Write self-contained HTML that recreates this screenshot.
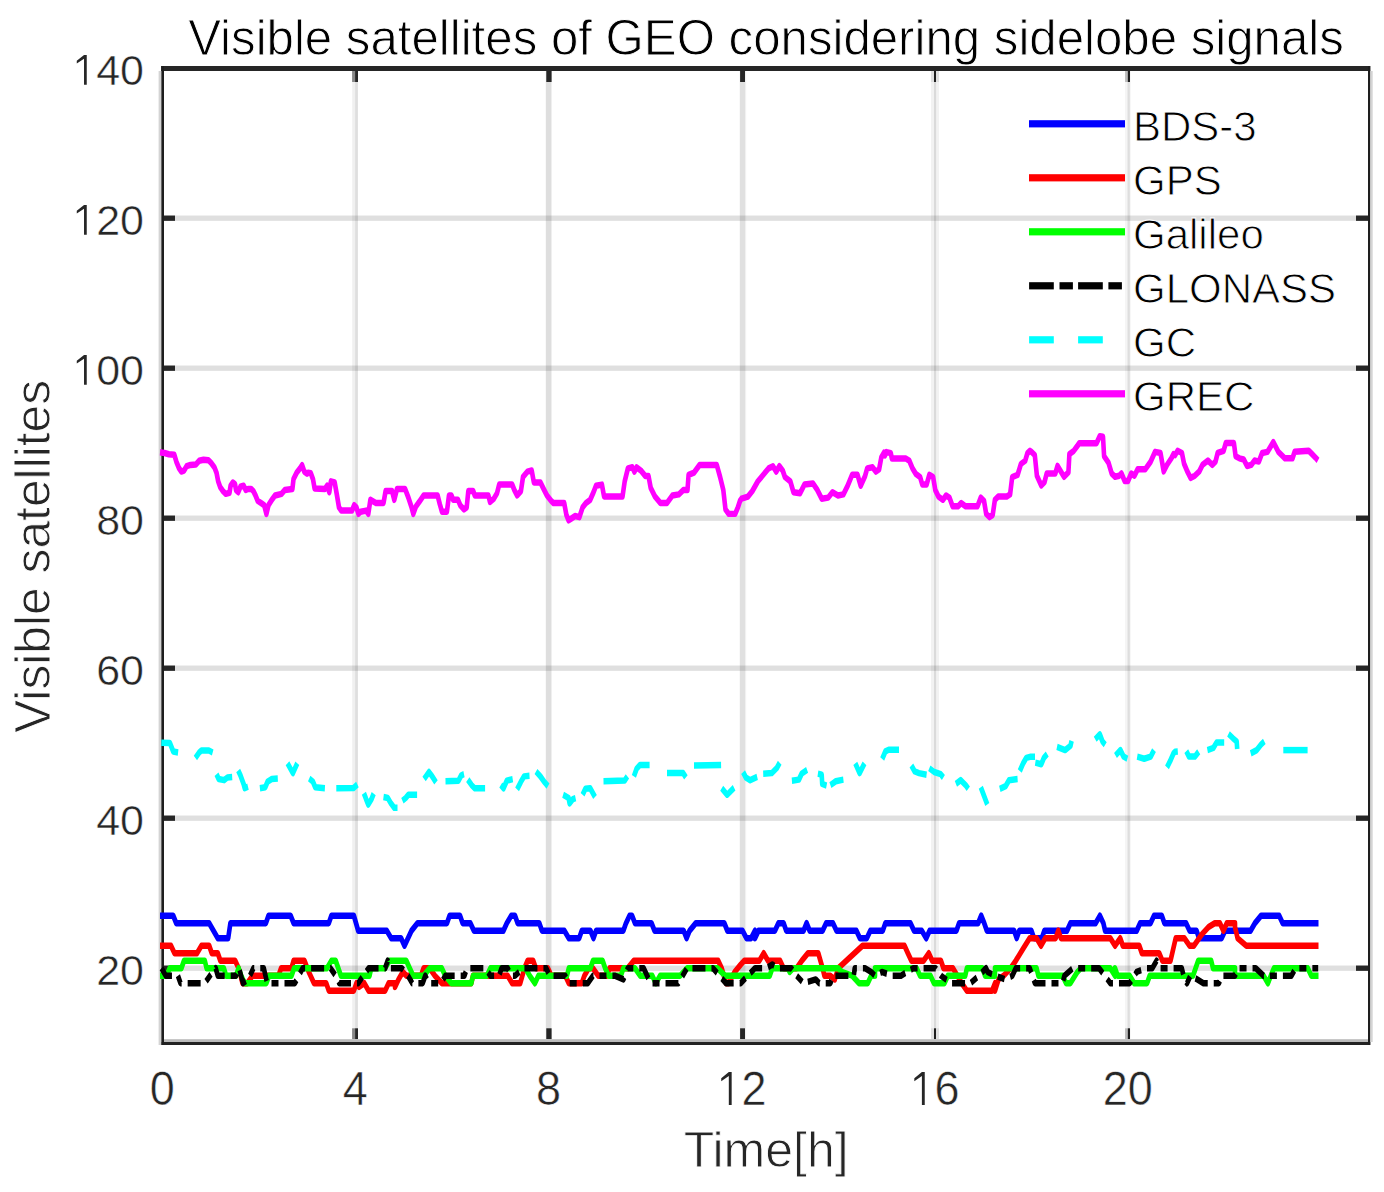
<!DOCTYPE html><html><head><meta charset="utf-8"><style>html,body{margin:0;padding:0;background:#fff;width:1384px;height:1192px;overflow:hidden}svg{display:block}text{font-family:"Liberation Sans",sans-serif;stroke:#fff;stroke-width:0.9px}text.tk{stroke-width:0.5px}</style></head><body><svg width="1384" height="1192" viewBox="0 0 1384 1192"><rect width="1384" height="1192" fill="#fff"/><rect x="352.2" y="71" width="3.00" height="968" fill="#262626" fill-opacity="0.069"/><rect x="355.2" y="71" width="2.70" height="968" fill="#262626" fill-opacity="0.152"/><rect x="545.8" y="71" width="5.70" height="968" fill="#262626" fill-opacity="0.152"/><rect x="739.8" y="71" width="5.40" height="968" fill="#262626" fill-opacity="0.143"/><rect x="745.2" y="71" width="1.00" height="968" fill="#262626" fill-opacity="0.041"/><rect x="931" y="71" width="3.00" height="968" fill="#262626" fill-opacity="0.060"/><rect x="934" y="71" width="2.10" height="968" fill="#262626" fill-opacity="0.171"/><rect x="936.1" y="71" width="2.90" height="968" fill="#262626" fill-opacity="0.060"/><rect x="1125" y="71" width="2.50" height="968" fill="#262626" fill-opacity="0.046"/><rect x="1127.5" y="71" width="2.30" height="968" fill="#262626" fill-opacity="0.152"/><rect x="1129.8" y="71" width="1.00" height="968" fill="#262626" fill-opacity="0.041"/><rect x="164" y="965.55" width="1204" height="5.3" fill="#262626" fill-opacity="0.15"/><rect x="164" y="815.55" width="1204" height="5.3" fill="#262626" fill-opacity="0.15"/><rect x="164" y="665.55" width="1204" height="5.3" fill="#262626" fill-opacity="0.15"/><rect x="164" y="515.55" width="1204" height="5.3" fill="#262626" fill-opacity="0.15"/><rect x="164" y="365.55" width="1204" height="5.3" fill="#262626" fill-opacity="0.15"/><rect x="164" y="215.55" width="1204" height="5.3" fill="#262626" fill-opacity="0.15"/><rect x="164" y="965.55" width="11" height="5.3" fill="#262626"/><rect x="1356" y="965.55" width="12" height="5.3" fill="#262626"/><rect x="164" y="815.55" width="11" height="5.3" fill="#262626"/><rect x="1356" y="815.55" width="12" height="5.3" fill="#262626"/><rect x="164" y="665.55" width="11" height="5.3" fill="#262626"/><rect x="1356" y="665.55" width="12" height="5.3" fill="#262626"/><rect x="164" y="515.55" width="11" height="5.3" fill="#262626"/><rect x="1356" y="515.55" width="12" height="5.3" fill="#262626"/><rect x="164" y="365.55" width="11" height="5.3" fill="#262626"/><rect x="1356" y="365.55" width="12" height="5.3" fill="#262626"/><rect x="164" y="215.55" width="11" height="5.3" fill="#262626"/><rect x="1356" y="215.55" width="12" height="5.3" fill="#262626"/><rect x="352.1" y="71" width="3.00" height="11" fill="#888888"/><rect x="352.1" y="1028.3" width="3.00" height="10.9" fill="#888888"/><rect x="355.1" y="71" width="2.90" height="11" fill="#262626"/><rect x="355.1" y="1028.3" width="2.90" height="10.9" fill="#262626"/><rect x="546.3" y="71" width="5.30" height="11" fill="#262626"/><rect x="546.3" y="1028.3" width="5.30" height="10.9" fill="#262626"/><rect x="740.1" y="71" width="4.90" height="11" fill="#262626"/><rect x="740.1" y="1028.3" width="4.90" height="10.9" fill="#262626"/><rect x="931" y="71" width="3.00" height="11" fill="#e0e0e0"/><rect x="931" y="1028.3" width="3.00" height="10.9" fill="#e0e0e0"/><rect x="934" y="71" width="2.10" height="11" fill="#1e1e1e"/><rect x="934" y="1028.3" width="2.10" height="10.9" fill="#1e1e1e"/><rect x="936.1" y="71" width="2.90" height="11" fill="#e0e0e0"/><rect x="936.1" y="1028.3" width="2.90" height="10.9" fill="#e0e0e0"/><rect x="1125.1" y="71" width="2.70" height="11" fill="#bbbbbb"/><rect x="1125.1" y="1028.3" width="2.70" height="10.9" fill="#bbbbbb"/><rect x="1127.8" y="71" width="2.20" height="11" fill="#1e1e1e"/><rect x="1127.8" y="1028.3" width="2.20" height="10.9" fill="#1e1e1e"/><rect x="161.2" y="66" width="1209" height="5" fill="#262626"/><rect x="161.2" y="1042" width="1209" height="3" fill="#222"/><rect x="164" y="1039.2" width="1204" height="2.8" fill="#bbb"/><rect x="161.2" y="66" width="2.8" height="979" fill="#1e1e1e"/><rect x="158.6" y="71" width="2.6" height="974" fill="#d4d4d4"/><rect x="1368" y="66" width="2.3" height="979" fill="#1e1e1e"/><rect x="1370.5" y="71" width="2.2" height="971" fill="#d4d4d4"/><g transform="scale(1,1.41)" fill="none" stroke-linejoin="round" stroke-width="4.6"><polyline points="162.3,649.43 173.2,649.43 176.2,654.75 209.2,654.75 213.5,660.07 217.8,665.39 228.2,665.39 230.4,654.75 265.9,654.75 268.5,649.43 278.0,649.43 278.5,649.43 290.6,649.43 293.6,654.75 328.8,654.75 331.4,649.43 353.9,649.43 358.2,660.07 386.8,660.07 391.2,665.39 395.0,665.39 395.0,665.39 401.1,665.39 404.5,670.71 408.0,665.39 411.5,660.07 417.5,654.75 447.0,654.75 449.6,649.43 460.0,649.43 462.6,654.75 470.4,654.75 473.9,660.07 503.4,660.07 506.8,654.75 511.2,649.43 515.0,649.43 515.0,649.43 517.6,654.75 539.3,654.75 541.9,660.07 564.4,660.07 568.8,665.39 579.2,665.39 581.8,660.07 590.4,660.07 593.5,665.39 596.1,660.07 623.4,660.07 626.0,654.75 629.5,649.43 632.1,649.43 635.0,654.75 635.0,654.75 651.5,654.75 654.5,660.07 683.6,660.07 686.6,665.39 689.6,660.07 695.7,654.75 724.3,654.75 727.3,660.07 742.5,660.07 746.4,665.39 751.2,665.39 755.0,660.07 755.0,665.39 758.5,660.07 774.9,660.07 778.4,654.75 783.6,654.75 786.2,660.07 803.6,660.07 806.6,654.75 809.6,660.07 822.6,660.07 826.1,654.75 833.0,654.75 836.5,660.07 856.4,660.07 859.9,665.39 866.8,665.39 870.3,660.07 875.0,660.07 875.0,660.07 882.8,660.07 885.4,654.75 910.5,654.75 914.0,660.07 921.8,660.07 926.2,665.39 929.6,660.07 956.5,660.07 959.1,654.75 978.2,654.75 981.2,649.43 984.2,654.75 986.8,660.07 995.0,660.07 995.0,660.07 1014.1,660.07 1016.7,665.39 1019.3,660.07 1031.4,660.07 1034.0,665.39 1041.8,665.39 1044.4,660.07 1067.0,660.07 1070.4,654.75 1095.6,654.75 1099.9,649.43 1103.4,654.75 1105.1,660.07 1115.0,660.07 1115.0,660.07 1136.7,660.07 1140.1,654.75 1150.5,654.75 1154.0,649.43 1161.8,649.43 1164.4,654.75 1186.1,654.75 1189.6,660.07 1196.5,660.07 1199.1,665.39 1221.6,665.39 1225.1,660.07 1235.0,660.07 1235.0,660.07 1250.6,660.07 1254.9,654.75 1261.0,649.43 1279.2,649.43 1282.7,654.75 1316.2,654.75" stroke="#0000ff" stroke-linecap="square"/><polyline points="162.3,670.71 171.0,670.71 174.5,676.03 197.0,676.03 201.4,670.71 209.2,670.71 211.8,676.03 217.8,676.03 220.4,681.35 235.2,681.35 238.6,686.67 242.5,697.30 247.3,697.30 252.5,691.99 278.0,691.99 278.5,691.99 281.1,686.67 291.5,686.67 293.6,681.35 304.5,681.35 308.8,689.33 314.0,697.30 326.2,697.30 328.8,702.62 353.9,702.62 356.5,697.30 359.1,699.96 364.3,697.30 368.6,702.62 385.1,702.62 388.6,697.30 395.0,697.30 395.0,699.96 398.5,694.65 402.8,689.33 406.3,691.99 421.0,691.99 423.6,686.67 429.7,686.67 434.9,691.99 441.8,697.30 471.3,697.30 473.0,691.99 507.7,691.99 512.1,697.30 515.0,697.30 515.0,697.30 520.2,697.30 524.5,686.67 527.6,681.35 533.2,681.35 535.8,686.67 547.9,686.67 551.4,691.99 565.3,691.99 568.8,697.30 581.8,697.30 584.4,691.99 588.7,686.67 593.0,686.67 598.2,691.99 606.9,691.99 609.5,686.67 627.7,686.67 633.8,681.35 635.0,681.35 635.0,681.35 718.2,681.35 721.7,686.67 726.0,697.30 728.6,697.30 734.7,689.33 740.8,684.01 744.2,681.35 755.0,681.35 755.0,681.35 759.3,681.35 763.7,676.03 768.0,681.35 780.1,681.35 783.6,686.67 796.6,686.67 801.8,681.35 807.9,676.03 818.3,676.03 822.6,686.67 824.4,691.99 830.4,691.99 834.8,694.65 838.2,686.67 862.5,670.71 875.0,670.71 875.0,670.71 904.5,670.71 907.9,676.03 911.4,681.35 923.6,681.35 928.8,676.03 932.2,681.35 940.9,681.35 943.5,686.67 953.0,686.67 957.4,691.99 961.7,697.30 966.9,702.62 992.1,702.62 995.0,697.30 995.0,702.62 998.5,694.65 1003.7,691.99 1010.6,686.67 1015.8,681.35 1022.7,673.37 1029.7,665.39 1036.6,665.39 1041.0,670.71 1045.3,665.39 1055.7,665.39 1058.3,660.07 1060.9,665.39 1110.3,665.39 1115.0,670.71 1115.0,670.71 1120.2,665.39 1122.8,670.71 1139.3,670.71 1141.9,676.03 1159.2,676.03 1162.3,681.35 1170.5,681.35 1175.7,665.39 1184.4,665.39 1189.6,670.71 1193.9,670.71 1201.7,662.73 1208.6,657.41 1214.7,654.75 1219.9,654.75 1223.4,660.07 1226.8,654.75 1235.0,654.75 1235.0,657.41 1237.6,665.39 1243.7,669.11 1246.3,670.71 1316.2,670.71" stroke="#ff0000" stroke-linecap="square"/><polyline points="162.3,691.99 166.7,691.99 169.7,686.67 181.4,686.67 184.0,681.35 204.8,681.35 206.6,686.67 223.9,686.67 226.1,691.99 236.0,691.99 238.6,686.67 241.2,691.99 244.7,697.30 266.4,697.30 269.0,691.99 278.0,691.99 278.5,691.99 291.5,691.99 294.1,686.67 327.0,686.67 331.4,681.35 335.7,681.35 340.9,691.99 360.0,691.99 369.5,691.99 371.2,686.67 385.1,686.67 389.5,681.35 395.0,681.35 395.0,681.35 406.3,681.35 409.7,686.67 413.2,691.99 423.6,691.99 429.7,686.67 441.8,686.67 445.3,691.99 451.4,697.30 471.3,697.30 473.0,691.99 486.9,691.99 490.4,686.67 515.0,686.67 515.0,686.67 525.4,686.67 529.7,691.99 534.9,697.30 538.4,691.99 551.4,691.99 567.0,691.99 568.8,686.67 590.4,686.67 593.0,681.35 602.6,681.35 605.2,686.67 608.6,691.99 620.8,691.99 623.4,686.67 635.0,686.67 635.0,686.67 640.2,691.99 652.3,691.99 655.8,697.30 660.1,691.99 680.1,691.99 687.0,686.67 717.4,686.67 725.2,691.99 742.5,691.99 755.0,691.99 755.0,691.99 769.7,691.99 772.3,686.67 787.9,686.67 789.7,689.33 793.2,686.67 838.2,686.67 841.7,689.33 852.1,691.99 859.0,697.30 867.7,697.30 871.2,691.99 875.0,691.99 875.0,686.67 909.7,686.67 916.6,686.67 920.1,691.99 930.5,691.99 934.0,697.30 944.4,697.30 947.8,691.99 965.2,691.99 966.9,686.67 982.5,686.67 985.1,691.99 995.0,691.99 995.0,686.67 1036.6,686.67 1038.4,691.99 1062.6,691.99 1066.1,697.30 1070.4,697.30 1077.4,689.33 1080.8,686.67 1110.3,686.67 1115.0,691.99 1115.0,686.67 1117.6,691.99 1129.7,691.99 1134.1,697.30 1147.1,697.30 1149.7,691.99 1193.0,691.99 1198.2,681.35 1211.2,681.35 1213.0,686.67 1235.0,686.67 1235.0,691.99 1255.8,691.99 1263.6,691.99 1267.9,697.30 1272.3,689.33 1274.0,686.67 1294.0,686.67 1307.8,686.67 1311.3,691.99 1316.2,691.99" stroke="#00ff00" stroke-linecap="square"/><polyline points="161.5,686.67 165.8,691.99 177.9,691.99 180.5,697.30 204.8,697.30 210.0,691.99 215.7,686.67 217.8,691.99 224.8,691.99 236.0,691.99 239.1,686.67 243.0,697.30 248.2,694.65 253.4,686.67 263.8,686.67 267.2,697.30 278.0,697.30 278.5,697.30 294.9,697.30 302.7,686.67 330.5,686.67 335.7,691.99 339.2,697.30 351.3,697.30 358.2,697.30 368.6,686.67 385.1,686.67 387.7,681.35 390.3,686.67 395.0,686.67 395.0,686.67 401.9,686.67 408.0,691.99 412.3,697.30 422.7,697.30 425.3,691.99 428.8,697.30 441.0,697.30 445.3,691.99 464.4,691.99 467.0,686.67 485.2,686.67 490.4,691.99 499.0,691.99 501.6,686.67 507.7,686.67 511.2,691.99 515.0,691.99 515.0,691.99 523.7,686.67 546.2,686.67 549.7,691.99 565.3,691.99 568.8,697.30 581.8,697.30 587.8,697.30 593.0,691.99 608.6,691.99 614.7,691.99 623.4,694.65 627.7,686.67 635.0,686.67 635.0,686.67 643.7,686.67 650.6,697.30 671.4,697.30 678.4,697.30 687.0,686.67 713.0,686.67 726.0,697.30 740.8,697.30 747.7,691.99 755.0,686.67 755.0,686.67 766.3,686.67 772.3,684.01 777.5,686.67 791.4,686.67 796.6,691.99 803.6,697.30 815.7,694.65 819.2,697.30 830.4,697.30 833.0,691.99 853.8,691.99 854.7,686.67 865.1,686.67 871.2,689.33 875.0,691.99 875.0,691.99 881.9,689.33 892.3,691.99 901.0,691.99 913.2,686.67 935.7,686.67 940.9,691.99 951.3,697.30 970.4,697.30 979.0,691.99 986.0,686.67 987.7,689.33 995.0,691.99 995.0,691.99 1005.4,694.65 1012.3,691.99 1015.8,686.67 1029.7,686.67 1034.9,697.30 1062.6,697.30 1064.4,691.99 1073.0,686.67 1099.0,686.67 1110.3,697.30 1115.0,697.30 1119.3,697.30 1129.7,697.30 1136.7,689.33 1146.2,686.67 1152.3,686.67 1156.6,681.35 1160.1,686.67 1181.8,686.67 1184.4,694.65 1187.0,697.30 1190.4,691.99 1197.4,694.65 1203.4,697.30 1219.0,697.30 1221.6,691.99 1235.0,691.99 1235.0,691.99 1238.5,686.67 1255.8,686.67 1263.6,691.99 1285.3,691.99 1291.4,691.99 1295.7,686.67 1318.2,686.67" stroke="#000000" stroke-linecap="butt" stroke-dasharray="13 6 7 6"/><polyline points="161.3,526.78 169.9,526.93 173.2,532.93 178.1,533.70" stroke="#00ffff" stroke-linecap="butt"/><polyline points="195.4,537.54 199.2,533.70 201.4,532.31 208.9,532.31 212.7,533.70" stroke="#00ffff" stroke-linecap="butt"/><polyline points="216.5,549.07 218.7,552.53 224.1,553.30 227.4,551.38 232.2,550.99" stroke="#00ffff" stroke-linecap="butt"/><polyline points="238.2,546.38 240.4,549.84 243.6,555.99 244.7,559.06 248.0,557.91" stroke="#00ffff" stroke-linecap="butt"/><polyline points="259.9,559.06 265.3,558.30 267.5,554.45 271.8,552.53 277.8,552.15" stroke="#00ffff" stroke-linecap="butt"/><polyline points="287.5,541.38 292.9,548.30 297.3,541.38" stroke="#00ffff" stroke-linecap="butt"/><polyline points="309.2,552.15 313.0,554.45 315.2,558.30 324.9,559.06" stroke="#00ffff" stroke-linecap="butt"/><polyline points="336.3,559.06 353.6,558.91 357.4,556.37" stroke="#00ffff" stroke-linecap="butt"/><polyline points="363.9,562.52 366.1,566.75 368.3,570.59 371.5,566.75 373.7,562.91" stroke="#00ffff" stroke-linecap="butt"/><polyline points="383.5,565.21 387.8,565.98 391.0,569.83 394.3,572.90 397.5,572.90" stroke="#00ffff" stroke-linecap="butt"/><polyline points="402.4,567.90 405.7,565.98 408.4,563.68 417.1,563.68" stroke="#00ffff" stroke-linecap="butt"/><polyline points="424.1,552.53 429.0,547.53 432.2,550.61 436.0,554.84" stroke="#00ffff" stroke-linecap="butt"/><polyline points="445.5,554.07 458.5,553.68 461.3,549.84 464.0,549.07" stroke="#00ffff" stroke-linecap="butt"/><polyline points="467.8,552.91 471.6,556.76 474.8,559.06 485.1,559.06" stroke="#00ffff" stroke-linecap="butt"/><polyline points="500.8,556.76 503.5,559.06 506.8,553.68 512.7,552.53" stroke="#00ffff" stroke-linecap="butt"/><polyline points="517.1,559.83 520.9,554.45 524.1,550.61 529.5,550.22" stroke="#00ffff" stroke-linecap="butt"/><polyline points="536.0,547.15 540.4,550.61 544.2,554.45 548.0,557.53" stroke="#00ffff" stroke-linecap="butt"/><polyline points="563.1,563.68 568.6,565.98 569.6,569.83 572.9,566.75 575.6,565.98" stroke="#00ffff" stroke-linecap="butt"/><polyline points="582.6,563.68 585.4,559.45 590.2,559.06 595.0,565.21" stroke="#00ffff" stroke-linecap="butt"/><polyline points="603.5,554.07 624.7,553.53 627.4,550.61" stroke="#00ffff" stroke-linecap="butt"/><polyline points="633.9,550.61 636.6,545.23 639.9,542.54 649.6,542.54" stroke="#00ffff" stroke-linecap="butt"/><polyline points="667.0,548.30 683.2,548.30 685.9,551.38" stroke="#00ffff" stroke-linecap="butt"/><polyline points="694.0,542.92 721.1,542.54" stroke="#00ffff" stroke-linecap="butt"/><polyline points="721.7,559.06 727.1,563.68 734.1,558.68" stroke="#00ffff" stroke-linecap="butt"/><polyline points="743.1,547.53 745.8,551.38 750.2,553.30 757.2,550.99" stroke="#00ffff" stroke-linecap="butt"/><polyline points="763.2,548.69 771.8,548.30 776.7,544.84 779.7,541.00" stroke="#00ffff" stroke-linecap="butt"/><polyline points="791.9,553.68 798.9,552.91 801.7,548.69 807.1,546.00" stroke="#00ffff" stroke-linecap="butt"/><polyline points="817.9,548.69 821.7,549.46 822.2,555.99 826.6,557.14" stroke="#00ffff" stroke-linecap="butt"/><polyline points="830.4,556.76 835.8,554.07 843.4,552.91" stroke="#00ffff" stroke-linecap="butt"/><polyline points="855.3,541.38 859.6,548.30 864.5,541.38" stroke="#00ffff" stroke-linecap="butt"/><polyline points="882.2,538.31 885.4,532.93 888.7,531.78 899.0,531.78" stroke="#00ffff" stroke-linecap="butt"/><polyline points="911.4,542.92 914.7,547.15 919.0,548.30 926.6,549.46" stroke="#00ffff" stroke-linecap="butt"/><polyline points="929.3,544.84 934.2,547.53 940.7,549.07 943.4,551.38" stroke="#00ffff" stroke-linecap="butt"/><polyline points="955.9,555.99 960.7,553.30 965.6,556.76 968.3,559.45" stroke="#00ffff" stroke-linecap="butt"/><polyline points="980.8,558.30 984.0,564.44 987.3,570.59" stroke="#00ffff" stroke-linecap="butt"/><polyline points="999.8,559.45 1005.7,557.53 1009.0,553.30 1017.6,552.53" stroke="#00ffff" stroke-linecap="butt"/><polyline points="1019.8,546.77 1023.1,541.38 1026.3,537.54 1030.0,536.77 1035.0,536.77" stroke="#00ffff" stroke-linecap="butt"/><polyline points="1035.3,540.83 1041.3,541.98 1044.0,537.37 1047.2,534.68" stroke="#00ffff" stroke-linecap="butt"/><polyline points="1057.0,529.68 1065.1,531.99 1070.5,528.91 1071.6,525.45" stroke="#00ffff" stroke-linecap="butt"/><polyline points="1095.2,524.30 1099.8,520.84 1102.5,525.84 1105.2,528.14" stroke="#00ffff" stroke-linecap="butt"/><polyline points="1115.5,535.83 1120.4,531.99 1123.6,536.60 1127.4,538.14" stroke="#00ffff" stroke-linecap="butt"/><polyline points="1137.2,536.60 1144.2,538.14 1150.7,536.60 1154.0,531.99" stroke="#00ffff" stroke-linecap="butt"/><polyline points="1167.0,544.29 1170.2,539.67 1173.5,534.29 1175.0,533.14 1177.8,532.91" stroke="#00ffff" stroke-linecap="butt"/><polyline points="1186.3,532.76 1189.0,536.60 1194.9,536.60 1198.7,533.14" stroke="#00ffff" stroke-linecap="butt"/><polyline points="1207.4,531.99 1213.4,530.45 1216.6,526.61 1224.2,526.61" stroke="#00ffff" stroke-linecap="butt"/><polyline points="1228.5,520.46 1232.9,523.53 1236.7,525.84 1237.2,531.22" stroke="#00ffff" stroke-linecap="butt"/><polyline points="1250.7,534.29 1256.7,531.99 1261.0,528.14 1264.3,525.84" stroke="#00ffff" stroke-linecap="butt"/><polyline points="1283.3,531.99 1307.6,531.99" stroke="#00ffff" stroke-linecap="butt"/><polyline points="162.3,321.02 164.5,321.25 168.8,322.17 174.3,322.56 176.4,327.55 179.1,332.16 181.3,334.47 184.0,333.70 186.7,330.63 190.5,329.71 195.9,329.47 199.2,326.78 203.5,326.02 208.4,326.40 211.1,328.32 214.4,331.40 216.5,335.24 218.2,341.39 220.3,345.62 223.0,348.31 225.7,350.23 229.5,349.46 230.6,344.46 232.8,342.16 235.0,343.31 236.0,347.54 238.2,349.08 240.4,345.23 243.6,344.46 245.8,347.54 248.0,346.77 251.2,346.77 253.4,348.31 255.5,351.38 257.7,355.22 261.0,356.76 264.2,358.30 266.4,364.45 268.5,358.30 271.8,354.46 275.1,351.38 281.6,350.23 284.8,347.54 292.4,346.77 293.5,339.85 296.7,335.24 300.0,332.16 302.1,329.86 304.3,334.47 307.0,336.01 308.0,335.24 310.8,335.62 313.0,339.85 314.6,346.39 324.9,346.77 327.1,344.46 329.3,349.08 330.9,341.39 334.7,342.16 336.8,350.61 339.0,359.84 341.2,362.14 352.0,362.14 354.2,358.30 356.4,359.84 358.5,364.45 360.7,362.91 366.1,362.14 368.3,364.45 370.4,354.46 375.9,356.76 383.5,356.76 385.6,348.31 392.1,348.31 394.3,354.46 397.0,346.77 405.1,346.77 408.4,352.92 411.6,359.84 413.3,364.45 416.0,359.07 419.2,355.99 423.6,351.38 437.6,351.38 439.8,357.53 442.0,362.91 446.9,362.91 449.0,351.38 450.0,351.38 451.5,351.38 453.1,354.46 458.0,354.46 460.2,358.30 464.0,361.37 466.7,359.84 468.3,348.31 473.2,348.31 474.8,351.38 488.4,351.38 490.0,355.99 493.8,353.69 497.0,349.84 499.2,343.69 512.2,343.69 514.4,347.54 517.1,351.38 520.9,348.31 523.0,338.31 527.4,334.47 531.7,333.70 533.9,342.16 540.4,342.16 543.6,346.77 546.9,351.38 551.2,355.22 553.4,356.76 564.2,356.76 566.4,365.22 568.6,369.06 571.8,367.52 575.1,365.99 579.4,366.75 582.6,359.84 585.9,356.76 590.2,354.46 593.5,349.08 596.0,344.46 601.9,343.69 604.1,352.15 622.5,352.15 624.7,341.39 627.9,332.16 632.3,331.40 634.4,334.47 636.6,331.40 640.9,333.70 645.3,337.55 648.5,337.55 650.7,346.00 655.0,352.15 660.4,356.76 667.0,356.76 672.4,351.38 678.9,350.61 683.2,347.54 687.5,347.54 688.6,336.78 694.0,335.24 699.5,329.86 716.8,329.86 720.1,338.31 723.3,347.54 725.5,361.37 728.7,364.45 735.2,364.45 737.9,359.84 740.0,355.22 741.5,353.69 748.0,352.15 752.3,348.31 757.8,341.39 763.2,336.78 768.6,332.16 772.9,330.63 776.2,334.47 779.4,330.63 782.7,333.70 784.9,338.31 790.3,341.39 793.5,349.08 800.0,349.84 804.4,343.69 813.0,342.93 817.4,347.54 821.7,353.69 828.2,352.92 832.5,349.08 838.0,351.38 843.4,350.61 847.7,344.46 852.1,336.78 857.5,336.78 860.7,344.46 865.1,337.55 867.2,332.16 872.6,331.40 875.9,334.47 879.1,332.93 881.3,324.48 884.0,321.02 885.0,322.94 886.5,320.64 890.8,321.40 891.9,325.25 906.0,325.25 909.3,326.78 912.5,332.16 915.8,336.01 920.1,338.31 922.3,343.69 926.6,343.69 929.3,336.78 933.1,338.31 935.3,347.54 938.5,352.15 942.9,354.46 946.1,351.38 949.4,352.92 952.6,359.07 958.0,359.07 961.3,356.76 965.6,359.07 977.5,359.07 980.8,352.92 984.0,355.22 986.2,364.45 989.5,366.75 992.7,365.22 994.9,354.46 998.1,352.15 1006.8,352.15 1010.1,350.61 1012.2,338.31 1017.6,336.78 1020.9,329.09 1025.2,326.78 1027.4,321.40 1030.0,319.69 1031.5,320.46 1034.8,322.77 1036.9,337.37 1041.3,344.29 1044.5,341.98 1046.7,335.83 1055.3,335.83 1057.5,330.45 1060.8,334.30 1064.0,338.14 1068.4,335.07 1069.4,322.00 1073.8,319.69 1077.0,316.62 1079.2,314.31 1096.5,314.31 1099.8,309.32 1103.0,309.70 1104.1,323.54 1108.5,328.15 1111.7,335.83 1115.0,338.14 1119.3,337.37 1121.5,335.83 1124.7,341.21 1128.0,341.21 1131.2,335.83 1134.5,337.37 1137.7,332.76 1145.3,332.76 1150.7,327.38 1155.1,320.46 1160.5,321.23 1163.7,334.30 1167.0,329.68 1171.3,325.07 1173.5,322.00 1175.0,322.77 1177.6,319.69 1181.9,321.23 1184.1,328.92 1187.3,334.30 1190.6,338.91 1194.9,337.37 1199.3,334.30 1202.5,329.68 1207.9,326.61 1212.3,329.68 1215.5,327.38 1217.7,321.23 1223.6,319.69 1225.8,314.16 1233.9,314.16 1235.6,323.54 1239.4,325.07 1243.7,325.84 1247.0,330.45 1251.3,329.68 1254.5,326.61 1258.9,327.38 1262.1,321.23 1267.5,320.46 1273.3,313.54 1278.4,320.46 1282.7,323.54 1284.9,325.07 1292.5,325.07 1294.6,320.46 1308.7,319.69 1312.0,322.00 1315.2,324.30 1316.2,325.07" stroke="#ff00ff" stroke-linecap="square"/></g><rect x="1029" y="120.2" width="96.0" height="7.2" fill="#0000ff"/><text x="1133" y="141.3" font-size="42" fill="#000">BDS-3</text><rect x="1029" y="174.2" width="96.0" height="7.2" fill="#ff0000"/><text x="1133" y="195.3" font-size="42" fill="#000">GPS</text><rect x="1029" y="228.2" width="96.0" height="7.2" fill="#00ff00"/><text x="1133" y="249.3" font-size="42" fill="#000">Galileo</text><rect x="1029.1" y="282.2" width="24.7" height="7.2" fill="#000000"/><rect x="1059.5" y="282.2" width="13.4" height="7.2" fill="#000000"/><rect x="1078.1" y="282.2" width="24.7" height="7.2" fill="#000000"/><rect x="1108.4" y="282.2" width="13.5" height="7.2" fill="#000000"/><text x="1133" y="303.3" font-size="42" fill="#000">GLONASS</text><rect x="1029.1" y="336.2" width="24.7" height="7.2" fill="#00ffff"/><rect x="1078.1" y="336.2" width="24.7" height="7.2" fill="#00ffff"/><text x="1133" y="357.3" font-size="42" fill="#000">GC</text><rect x="1029" y="390.2" width="96.0" height="7.2" fill="#ff00ff"/><text x="1133" y="411.3" font-size="42" fill="#000">GREC</text><g><text class="tk" x="96.17" y="984.70" font-size="43" fill="#262626">2</text><text class="tk" x="120.09" y="984.70" font-size="43" fill="#262626">0</text></g><g><text class="tk" x="96.17" y="834.70" font-size="43" fill="#262626">4</text><text class="tk" x="120.09" y="834.70" font-size="43" fill="#262626">0</text></g><g><text class="tk" x="96.17" y="684.70" font-size="43" fill="#262626">6</text><text class="tk" x="120.09" y="684.70" font-size="43" fill="#262626">0</text></g><g><text class="tk" x="96.17" y="534.70" font-size="43" fill="#262626">8</text><text class="tk" x="120.09" y="534.70" font-size="43" fill="#262626">0</text></g><g><path d="M560,0L560,1230L215,1010L215,1140L560,1409L690,1409L690,0Z" transform="translate(72.26,384.70) scale(0.02100,-0.02100)" fill="#262626"/><text class="tk" x="96.17" y="384.70" font-size="43" fill="#262626">0</text><text class="tk" x="120.09" y="384.70" font-size="43" fill="#262626">0</text></g><g><path d="M560,0L560,1230L215,1010L215,1140L560,1409L690,1409L690,0Z" transform="translate(72.26,234.70) scale(0.02100,-0.02100)" fill="#262626"/><text class="tk" x="96.17" y="234.70" font-size="43" fill="#262626">2</text><text class="tk" x="120.09" y="234.70" font-size="43" fill="#262626">0</text></g><g><path d="M560,0L560,1230L215,1010L215,1140L560,1409L690,1409L690,0Z" transform="translate(72.26,84.70) scale(0.02100,-0.02100)" fill="#262626"/><text class="tk" x="96.17" y="84.70" font-size="43" fill="#262626">4</text><text class="tk" x="120.09" y="84.70" font-size="43" fill="#262626">0</text></g><g transform="translate(0,1105.00) scale(1,1.07) translate(0,-1105.00)"><text class="tk" x="149.79" y="1105.00" font-size="45" fill="#262626">0</text></g><g transform="translate(0,1105.00) scale(1,1.07) translate(0,-1105.00)"><text class="tk" x="342.87" y="1105.00" font-size="45" fill="#262626">4</text></g><g transform="translate(0,1105.00) scale(1,1.07) translate(0,-1105.00)"><text class="tk" x="535.95" y="1105.00" font-size="45" fill="#262626">8</text></g><g transform="translate(0,1105.00) scale(1,1.07) translate(0,-1105.00)"><path d="M560,0L560,1230L215,1010L215,1140L560,1409L690,1409L690,0Z" transform="translate(716.51,1105.00) scale(0.02197,-0.02197)" fill="#262626"/><text class="tk" x="741.54" y="1105.00" font-size="45" fill="#262626">2</text></g><g transform="translate(0,1105.00) scale(1,1.07) translate(0,-1105.00)"><path d="M560,0L560,1230L215,1010L215,1140L560,1409L690,1409L690,0Z" transform="translate(909.59,1105.00) scale(0.02197,-0.02197)" fill="#262626"/><text class="tk" x="934.62" y="1105.00" font-size="45" fill="#262626">6</text></g><g transform="translate(0,1105.00) scale(1,1.07) translate(0,-1105.00)"><text class="tk" x="1102.67" y="1105.00" font-size="45" fill="#262626">2</text><text class="tk" x="1127.70" y="1105.00" font-size="45" fill="#262626">0</text></g><text x="766.2" y="1167" font-size="50" fill="#262626" text-anchor="middle">Time[h]</text><text transform="translate(50,556.4) rotate(-90)" font-size="49.75" fill="#262626" text-anchor="middle">Visible satellites</text><text x="188.2" y="55" font-size="49.2" fill="#000">Visible satellites of GEO considering sidelobe signals</text></svg></body></html>
